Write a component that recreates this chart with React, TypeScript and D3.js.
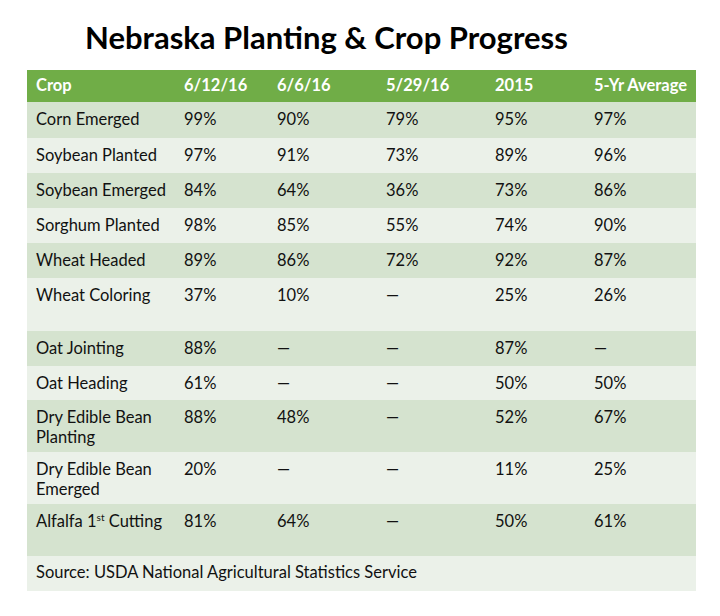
import React from "react";
import * as d3 from "d3";

const title = "Nebraska Planting & Crop Progress";
const headers = ["Crop", "6/12/16", "6/6/16", "5/29/16", "2015", "5-Yr Average"];
const crops = [
  "Corn Emerged",
  "Soybean Planted",
  "Soybean Emerged",
  "Sorghum Planted",
  "Wheat Headed",
  "Wheat Coloring",
  "Oat Jointing",
  "Oat Heading",
  "Dry Edible Bean|Planting",
  "Dry Edible Bean|Emerged",
  "Alfalfa 1^st Cutting",
];
const week0612 = ["99%", "97%", "84%", "98%", "89%", "37%", "88%", "61%", "88%", "20%", "81%"];
const week0606 = ["90%", "91%", "64%", "85%", "86%", "10%", "—", "—", "48%", "—", "64%"];
const week0529 = ["79%", "73%", "36%", "55%", "72%", "—", "—", "—", "—", "—", "—"];
const year2015 = ["95%", "89%", "73%", "74%", "92%", "25%", "87%", "50%", "52%", "11%", "50%"];
const fiveYr = ["97%", "96%", "86%", "90%", "87%", "26%", "—", "50%", "67%", "25%", "61%"];
const source = "Source: USDA National Agricultural Statistics Service";

// layout
const colWidths = [148, 93, 109, 109, 99, 111];
const rowHeights = [32, 36, 35, 35, 35, 35, 53, 35, 34, 52, 52, 52, 35];
const tableLeft = 27;
const tableTop = 70;

const FONT = "Lato, 'Open Sans', sans-serif";

function CellText({ text, x, y, fill, bold }: { text: string; x: number; y: number; fill: string; bold?: boolean }) {
  const lines = text.split("|");
  return (
    <text x={x} y={y} fill={fill} fontFamily={FONT} fontSize={16.5} fontWeight={bold ? 700 : 400}>
      {lines.map((ln, i) => {
        const parts = ln.split("^");
        if (parts.length === 1) {
          return (
            <tspan key={i} x={x} dy={i === 0 ? 0 : 20}>
              {ln}
            </tspan>
          );
        }
        const [pre, rest] = parts;
        const sp = rest.indexOf(" ");
        const sup = rest.slice(0, sp);
        const post = rest.slice(sp);
        return (
          <tspan key={i} x={x} dy={i === 0 ? 0 : 20}>
            {pre}
            <tspan fontSize={10} dy={-6}>{sup}</tspan>
            <tspan dy={6}>{post}</tspan>
          </tspan>
        );
      })}
    </text>
  );
}

export default function App() {
  const colEdges = d3.cumsum([0, ...colWidths]).map((v) => v + tableLeft);
  const rowEdges = d3.cumsum([0, ...rowHeights]).map((v) => v + tableTop);
  const tableWidth = d3.sum(colWidths);

  const rows = crops.map((c, i) => [c, week0612[i], week0606[i], week0529[i], year2015[i], fiveYr[i]]);
  const dark = "#D5E3CF";
  const light = "#EBF1E9";
  const header = "#70AD47";

  return (
    <svg width={720} height={616} style={{ position: "absolute", left: 0, top: 0 }}>
      <rect x={0} y={0} width={720} height={616} fill="#fff" />
      <text x={85} y={49} fontFamily="Lato, 'Open Sans', sans-serif" fontWeight={700} fontSize={31} fill="#000">
        {title}
      </text>
      {headers.map((h, j) => (
        <g key={"h" + j}>
          <rect x={colEdges[j]} y={rowEdges[0]} width={colWidths[j]} height={rowHeights[0]} fill={header} />
          <CellText text={h} x={colEdges[j] + 9} y={rowEdges[0] + 21} fill="#fff" bold />
        </g>
      ))}
      {rows.map((r, i) => (
        <g key={"r" + i}>
          {r.map((v, j) => (
            <g key={j}>
              <rect
                x={colEdges[j]}
                y={rowEdges[i + 1]}
                width={colWidths[j]}
                height={rowHeights[i + 1]}
                fill={i % 2 === 0 ? dark : light}
              />
              <CellText text={v} x={colEdges[j] + 9} y={rowEdges[i + 1] + 23} fill="#111" />
            </g>
          ))}
        </g>
      ))}
      <rect
        x={tableLeft}
        y={rowEdges[rows.length + 1]}
        width={tableWidth}
        height={rowHeights[rows.length + 1]}
        fill={light}
      />
      <CellText text={source} x={tableLeft + 9} y={rowEdges[rows.length + 1] + 22} fill="#111" />
      {colEdges.slice(1, -1).map((x, j) => (
        <line key={"v" + j} x1={x} x2={x} y1={rowEdges[0]} y2={rowEdges[rows.length + 1]} stroke="#fff" strokeWidth={2} />
      ))}
      {rowEdges.slice(1, -1).map((y, i) => (
        <line key={"hl" + i} x1={tableLeft} x2={tableLeft + tableWidth} y1={y} y2={y} stroke="#fff" strokeWidth={2} />
      ))}
    </svg>
  );
}
